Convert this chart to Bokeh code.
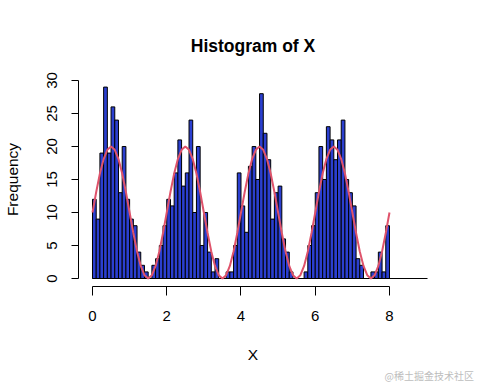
from bokeh.plotting import figure
from bokeh.models import Range1d, FixedTicker, Title
from bokeh.embed import file_html
from bokeh.resources import INLINE

# ---- data ----
bin_width = 0.1
counts = [12, 9, 19, 29, 19, 26, 24, 13, 20, 12, 9, 8, 4, 2, 1, 0, 2, 3, 5, 8,
          12, 11, 16, 21, 14, 16, 24, 10, 20, 5, 10, 4, 1, 3, 0, 0, 1, 1, 5, 16,
          11, 7, 17, 20, 15, 28, 22, 18, 9, 13, 14, 6, 4, 1, 0, 0, 0, 1, 5, 8,
          13, 20, 15, 23, 21, 18, 21, 24, 15, 13, 11, 3, 2, 0, 0, 1, 1, 4, 1, 8]

curve_x = [i / 10 for i in range(81)]
curve_y = [10.0, 13.1, 15.9, 18.1, 19.5, 20.0, 19.5, 18.1, 15.9, 13.1,
           10.0, 6.9, 4.1, 1.9, 0.5, 0.0, 0.5, 1.9, 4.1, 6.9,
           10.0, 13.1, 15.9, 18.1, 19.5, 20.0, 19.5, 18.1, 15.9, 13.1,
           10.0, 6.9, 4.1, 1.9, 0.5, 0.0, 0.5, 1.9, 4.1, 6.9,
           10.0, 13.1, 15.9, 18.1, 19.5, 20.0, 19.5, 18.1, 15.9, 13.1,
           10.0, 6.9, 4.1, 1.9, 0.5, 0.0, 0.5, 1.9, 4.1, 6.9,
           10.0, 13.1, 15.9, 18.1, 19.5, 20.0, 19.5, 18.1, 15.9, 13.1,
           10.0, 6.9, 4.1, 1.9, 0.5, 0.0, 0.5, 1.9, 4.1, 6.9,
           10.0]

x_ticks = [0, 2, 4, 6, 8]
y_ticks = [0, 5, 10, 15, 20, 25, 30]
title_text = "Histogram of X"
x_label = "X"
y_label = "Frequency"
watermark = "@稀土掘金技术社区"

lefts = [i * bin_width for i in range(len(counts))]
rights = [l + bin_width for l in lefts]

FONT = "Liberation Sans"

p = figure(frame_width=349, frame_height=214,
           min_border_left=78, min_border_right=53,
           min_border_top=72, min_border_bottom=98,
           x_range=Range1d(-0.377, 9.024), y_range=Range1d(-1.212, 31.21),
           output_backend="svg", toolbar_location=None)
p.outline_line_color = None
p.grid.visible = False
p.background_fill_color = "white"
p.border_fill_color = "white"

p.title.text = title_text
p.title.align = "center"
p.title.text_font = FONT
p.title.text_font_size = "17.5px"
p.title.text_font_style = "bold"
p.title.text_color = "black"
p.title.standoff = 34

p.quad(left=lefts, right=rights, bottom=0, top=counts,
       fill_color="#2B3FD0", line_color="black", line_width=1)
p.segment(x0=[0], y0=[0], x1=[9.1], y1=[0], line_color="black", line_width=1)
p.line(curve_x, curve_y, line_color="#DF536B", line_width=2)

for ax, ticks, bounds in ((p.xaxis[0], x_ticks, (0, 8)), (p.yaxis[0], y_ticks, (0, 30))):
    ax.ticker = FixedTicker(ticks=ticks)
    ax.bounds = bounds
    ax.minor_tick_line_color = None
    ax.major_tick_in = 0
    ax.axis_line_color = "black"
    ax.major_tick_line_color = "black"
    ax.major_label_text_font = FONT
    ax.major_label_text_font_size = "15px"
    ax.major_label_text_color = "black"
    ax.axis_label_text_font = FONT
    ax.axis_label_text_font_size = "15.5px"
    ax.axis_label_text_font_style = "normal"
    ax.axis_label_text_color = "black"

p.xaxis.major_tick_out = 9
p.xaxis.major_label_standoff = 15
p.xaxis.axis_label = x_label
p.xaxis.axis_label_standoff = 22

p.yaxis.major_tick_out = 7
p.yaxis.major_label_orientation = "vertical"
p.yaxis.major_label_standoff = 14
p.yaxis.axis_label = y_label
p.yaxis.axis_label_standoff = 24

p.add_layout(Title(text=watermark, align="left", offset=306, standoff=0,
                   text_font="Noto Sans CJK SC", text_font_size="10px",
                   text_font_style="normal", text_color="#bdbdbd"), "below")

open("out.html", "w").write(file_html(p, INLINE))
